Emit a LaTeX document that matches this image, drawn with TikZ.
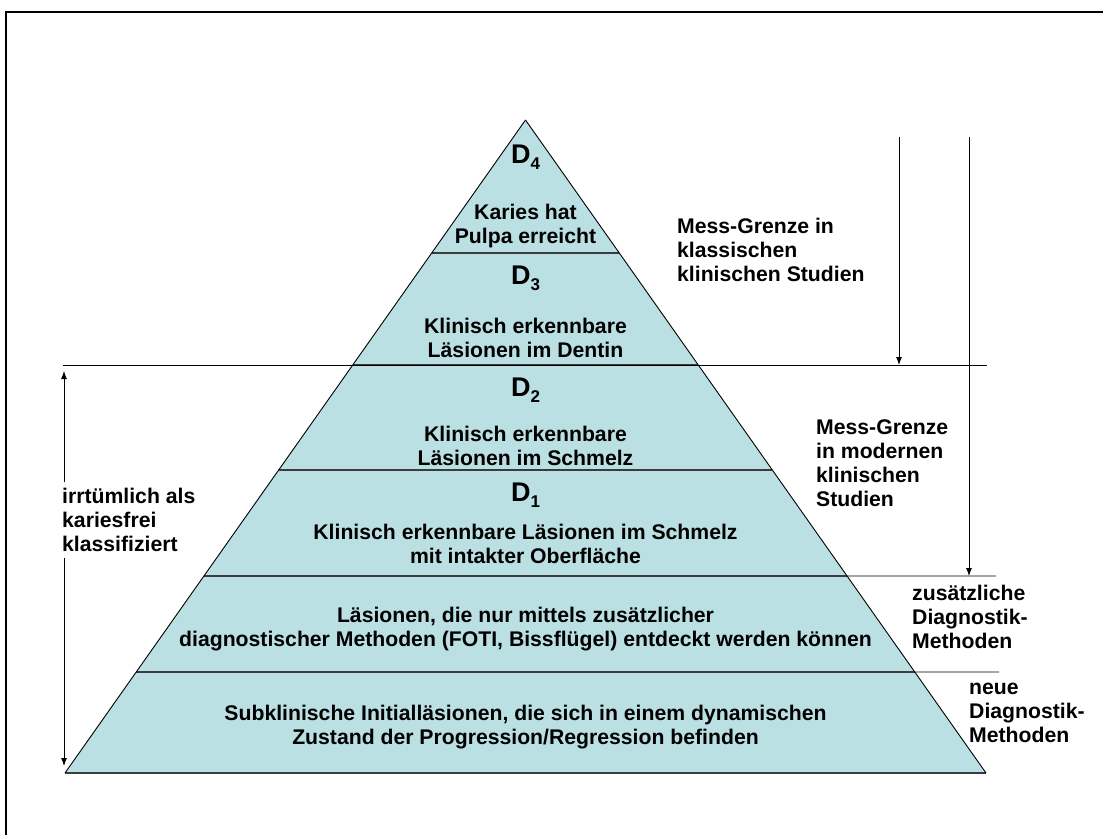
\documentclass[tikz,border=0pt]{standalone}
\usepackage{fontspec}
\setmainfont{Liberation Sans}
\usetikzlibrary{calc,arrows.meta}
\definecolor{pyr}{RGB}{187,224,227}
\definecolor{divc}{RGB}{60,60,60}
\newcommand{\dsub}[1]{D\raisebox{-6pt}{\fontsize{17}{17}\selectfont #1}}
\begin{document}
\begin{tikzpicture}[x=1pt,y=-1pt,
  txt/.style={font=\fontsize{21.2}{24.2}\selectfont\bfseries, align=center, inner sep=0pt},
  lbl/.style={font=\fontsize{21.2}{24.2}\selectfont\bfseries, align=left, anchor=west, inner sep=0pt},
  dlab/.style={font=\fontsize{27}{28}\selectfont\bfseries, inner sep=0pt},
  divider/.style={draw=divc, line width=1.6pt},
  guide/.style={draw=black, line width=0.9pt},
  arr/.style={draw=black, line width=0.9pt, -{Latex[length=8pt,width=6pt]}},
  darr/.style={draw=black, line width=0.9pt, {Latex[length=8pt,width=6pt]}-{Latex[length=8pt,width=6pt]}},
]
\useasboundingbox (0,0) rectangle (1103,835);
% frame
\draw[line width=2.5pt] (6,836) -- (6,12) -- (1104,12);

% pyramid
\coordinate (A) at (525.5,120);
\coordinate (L) at (65,773);
\coordinate (R) at (986,773);
\fill[pyr] (A) -- (L) -- (R) -- cycle;

\coordinate (l1) at ($(A)!0.20368!(L)$); \coordinate (r1) at ($(A)!0.20368!(R)$);
\coordinate (l2) at ($(A)!0.37519!(L)$); \coordinate (r2) at ($(A)!0.37519!(R)$);
\coordinate (l3) at ($(A)!0.53599!(L)$); \coordinate (r3) at ($(A)!0.53599!(R)$);
\coordinate (l4) at ($(A)!0.69832!(L)$); \coordinate (r4) at ($(A)!0.69832!(R)$);
\coordinate (l5) at ($(A)!0.84533!(L)$); \coordinate (r5) at ($(A)!0.84533!(R)$);

\draw[divider] (l1) -- (r1);
\draw[divider] (l2) -- (r2);
\draw[divider] (l3) -- (r3);
\draw[divider] (l4) -- (r4);
\draw[divider] (l5) -- (r5);
\draw[divider] (L) -- (R);
\draw[line width=0.9pt] (A) -- (L);
\draw[line width=0.9pt] (A) -- (R);

% guide lines
\coordinate (g2a) at (63,365);
\coordinate (g2b) at (987,365);
\coordinate (g4b) at (996,576);
\coordinate (g5b) at (999,672);
\draw[guide] (g2a) -- (g2b);
\draw[guide] (r4) -- (g4b);
\draw[guide] (r5) -- (g5b);

% right arrows
\coordinate (a1s) at (899,137);
\coordinate (a2s) at (969,137);
\draw[arr] (a1s) -- (a1s |- g2b);
\draw[arr] (a2s) -- (a2s |- g4b);

% pyramid texts
\node[dlab] (d4) at (525.5,157) {\dsub{4}};
\node[txt] (t4) at (525.5,226) {Karies hat\\Pulpa erreicht};
\node[dlab] (d3) at (525.5,278) {\dsub{3}};
\node[txt] (t3) at (525.5,338) {Klinisch erkennbare\\Läsionen im Dentin};
\node[dlab] (d2) at (525.5,390) {\dsub{2}};
\node[txt] (t2) at (525.5,446) {Klinisch erkennbare\\Läsionen im Schmelz};
\node[dlab] (d1) at (525.5,495) {\dsub{1}};
\node[txt] (t1) at (525.5,544) {Klinisch erkennbare Läsionen im Schmelz\\mit intakter Oberfläche};
\node[txt] (t0) at (525.5,629) {Läsionen, die nur mittels zusätzlicher\\diagnostischer Methoden (FOTI, Bissflügel) entdeckt werden können};
\node[txt] (tb) at (525.5,727) {Subklinische Initialläsionen, die sich in einem dynamischen\\Zustand der Progression/Regression befinden};

% side labels
\node[lbl] (m1) at (677,250) {Mess-Grenze in\\klassischen\\klinischen Studien};
\node[lbl] (m2) at (816,463) {Mess-Grenze\\in modernen\\klinischen\\Studien};
\node[lbl] (m3) at (912,617) {zusätzliche\\Diagnostik-\\Methoden};
\node[lbl] (m4) at (969,713) {neue\\Diagnostik-\\Methoden};

% left arrow and label
\coordinate (la) at (64,371);
\coordinate (lb) at (64,766);
\draw[darr] (la) -- (lb);
\node[lbl, fill=white, inner xsep=2pt, inner ysep=6pt] (irr) at (60,520) {irrtümlich als\\kariesfrei\\klassifiziert};
\end{tikzpicture}
\end{document}
